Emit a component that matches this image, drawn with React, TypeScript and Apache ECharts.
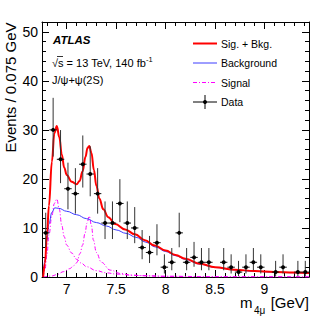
import React, { useEffect, useRef } from "react";
import * as echarts from "echarts";

// ---- Binning / data ----
const binLow = 6.75;
const binWidth = 0.075;
const counts = [9, 30, 24, 18, 17, 23, 21, 17, 11, 11, 15, 11, 10, 6, 5, 7, 2, 3, 9, 3, 4, 3, 3, 0, 3, 2, 1, 2, 3, 2, 0, 1, 2, 0, 1, 1];

// ---- Fit curves (x in GeV, y in events / bin) ----
const sigBkgCurve = [
  [6.762, 0], [6.78, 2.8], [6.8, 8.5], [6.82, 14.5], [6.85, 23.5], [6.875, 29.3], [6.9, 30.8], [6.925, 28.5],
  [6.95, 25], [6.975, 22.3], [7.0, 20.8], [7.05, 19.4], [7.1, 18.9], [7.13, 19.6], [7.16, 21.5], [7.19, 24.5],
  [7.21, 26.3], [7.228, 26.7], [7.25, 25.3], [7.275, 21.8], [7.3, 18.6], [7.33, 16], [7.37, 13.8], [7.42, 12.2],
  [7.49, 10.8], [7.59, 9.7], [7.69, 8.7], [7.79, 7.5], [7.89, 6.4], [8.0, 5.4], [8.1, 4.5], [8.2, 3.7],
  [8.35, 2.7], [8.5, 2.0], [8.7, 1.5], [8.9, 1.2], [9.1, 1.0], [9.3, 0.9], [9.45, 0.8],
];
const bkgCurve = [
  [6.762, 0], [6.78, 3.5], [6.8, 7.5], [6.82, 10.8], [6.85, 13.2], [6.88, 14.1], [6.92, 14.0], [7.0, 13.4],
  [7.1, 12.7], [7.2, 11.9], [7.3, 11.1], [7.4, 10.4], [7.5, 9.6], [7.6, 8.9], [7.7, 8.1], [7.8, 7.1],
  [7.9, 6.1], [8.0, 5.2], [8.1, 4.35], [8.2, 3.6], [8.35, 2.6], [8.5, 1.95], [8.7, 1.45], [8.9, 1.15],
  [9.1, 0.97], [9.3, 0.87], [9.45, 0.78],
];
const signal1Curve = [
  [6.762, 0], [6.78, 1.5], [6.8, 4.5], [6.82, 8.5], [6.85, 12.5], [6.875, 15], [6.9, 15.9], [6.925, 13.8],
  [6.95, 10.5], [6.975, 8.2], [7.0, 6.5], [7.05, 4.9], [7.1, 3.6], [7.15, 2.8], [7.2, 2.1], [7.3, 1.3],
  [7.4, 0.85], [7.5, 0.6], [7.7, 0.3], [8.0, 0.13], [8.5, 0.05], [9.45, 0.02],
];
const signal2Curve = [
  [6.762, 0], [6.85, 0.2], [6.9, 0.5], [6.97, 1.1], [7.03, 1.7], [7.07, 2.3], [7.1, 2.9], [7.135, 4.8],
  [7.16, 6.5], [7.185, 8.9], [7.205, 11], [7.228, 12.4], [7.25, 10.5], [7.27, 7.5], [7.3, 5], [7.35, 3],
  [7.44, 1.4], [7.55, 0.7], [7.65, 0.4], [7.8, 0.25], [8.0, 0.15], [8.5, 0.07], [9.45, 0.03],
];

// ---- Axes ----
const xMin = 6.75;
const xMax = 9.45;
const yMin = 0;
const yMax = 52;
const xMajor = [7, 7.5, 8, 8.5, 9];
const xMinor = [6.8, 6.9, 7.1, 7.2, 7.3, 7.4, 7.6, 7.7, 7.8, 7.9, 8.1, 8.2, 8.3, 8.4, 8.6, 8.7, 8.8, 8.9, 9.1, 9.2, 9.3, 9.4];
const yMajor = [0, 10, 20, 30, 40, 50];
const yMinor = [2, 4, 6, 8, 12, 14, 16, 18, 22, 24, 26, 28, 32, 34, 36, 38, 42, 44, 46, 48];

const FONT = "Liberation Sans, Arial, Helvetica, sans-serif";

// Garwood (Poisson) interval via Wilson-Hilferty chi2 quantile
function chi2q(k: number, z: number) {
  const a = 2 / (9 * k);
  return k * Math.pow(1 - a + z * Math.sqrt(a), 3);
}

function makeXAxis(position: "bottom" | "top", values: number[], len: number, labels: boolean, line: boolean) {
  return {
    type: "value",
    min: xMin,
    max: xMax,
    position,
    axisLine: { show: line, onZero: false, lineStyle: { color: "#000", width: 1 } },
    axisTick: { show: true, inside: true, length: len, customValues: values, lineStyle: { color: "#000", width: 1 } },
    axisLabel: labels
      ? { show: true, customValues: values, fontSize: 14, color: "#000", fontFamily: FONT, margin: 5 }
      : { show: false },
    splitLine: { show: false },
  };
}
function makeYAxis(position: "left" | "right", values: number[], len: number, labels: boolean, line: boolean) {
  return {
    type: "value",
    min: yMin,
    max: yMax,
    position,
    axisLine: { show: line, onZero: false, lineStyle: { color: "#000", width: 1 } },
    axisTick: { show: true, inside: true, length: len, customValues: values, lineStyle: { color: "#000", width: 1 } },
    axisLabel: labels
      ? { show: true, customValues: values, fontSize: 14, color: "#000", fontFamily: FONT, margin: 4 }
      : { show: false },
    splitLine: { show: false },
  };
}

export default function App() {
  const ref = useRef<HTMLDivElement>(null);
  useEffect(() => {
    document.body.style.margin = "0";
    const chart = echarts.init(ref.current!, null, { renderer: "svg" });

    const dataPts = counts
      .map((n, i) => {
        const c = binLow + (i + 0.5) * binWidth;
        const lo = n > 0 ? chi2q(2 * n, -1) / 2 : 0;
        const hi = chi2q(2 * n + 2, 1) / 2;
        return [c, n, lo, hi, binWidth / 2];
      })
      .filter((d) => d[1] > 0);

    const legendX1 = 193;
    const legendX2 = 217;
    const legendTX = 221;
    const rows = [43.5, 63, 82.5, 102];

    chart.setOption({
      animation: false,
      grid: { left: 42, right: 23, top: 22, bottom: 42 },
      xAxis: [
        makeXAxis("bottom", xMajor, 7, true, true),
        makeXAxis("bottom", xMinor, 4, false, false),
        makeXAxis("top", xMajor, 7, false, true),
        makeXAxis("top", xMinor, 4, false, false),
      ],
      yAxis: [
        makeYAxis("left", yMajor, 7, true, true),
        makeYAxis("left", yMinor, 4, false, false),
        makeYAxis("right", yMajor, 7, false, true),
        makeYAxis("right", yMinor, 4, false, false),
      ],
      series: [
        {
          type: "line",
          name: "Signal",
          data: signal1Curve,
          smooth: 0.4,
          smoothMonotone: "x",
          showSymbol: false,
          lineStyle: { color: "#ff00ff", width: 1, type: [4, 2, 1, 2] },
          z: 2,
        },
        {
          type: "line",
          name: "Signal",
          data: signal2Curve,
          smooth: 0.4,
          smoothMonotone: "x",
          showSymbol: false,
          lineStyle: { color: "#ff00ff", width: 1, type: [4, 2, 1, 2] },
          z: 2,
        },
        {
          type: "line",
          name: "Background",
          data: bkgCurve,
          smooth: 0.4,
          smoothMonotone: "x",
          showSymbol: false,
          lineStyle: { color: "#3c3cff", width: 1 },
          z: 3,
        },
        {
          type: "line",
          name: "Sig. + Bkg.",
          data: sigBkgCurve,
          smooth: 0.4,
          smoothMonotone: "x",
          showSymbol: false,
          lineStyle: { color: "#ff0000", width: 2 },
          z: 4,
        },
        {
          type: "custom",
          name: "Data",
          data: dataPts,
          encode: { x: 0, y: 1 },
          z: 5,
          renderItem: (params: any, api: any) => {
            const x = api.value(0);
            const y = api.value(1);
            const lo = api.value(2);
            const hi = api.value(3);
            const hw = api.value(4);
            const p = api.coord([x, y]);
            const pl = api.coord([x - hw, y]);
            const pr = api.coord([x + hw, y]);
            const pt = api.coord([x, hi]);
            const pb = api.coord([x, lo]);
            return {
              type: "group",
              children: [
                { type: "line", shape: { x1: pl[0], y1: p[1], x2: pr[0], y2: p[1] }, style: { stroke: "#111", lineWidth: 1 } },
                { type: "line", shape: { x1: p[0], y1: pt[1], x2: p[0], y2: pb[1] }, style: { stroke: "#333", lineWidth: 1 } },
                { type: "circle", shape: { cx: p[0], cy: p[1], r: 2 }, style: { fill: "#000" } },
              ],
            };
          },
        },
      ],
      graphic: [
        // y-axis title
        {
          type: "text",
          x: 10,
          y: 87.5,
          rotation: Math.PI / 2,
          style: { text: "Events / 0.075 GeV", font: `15px ${FONT}`, fill: "#000", align: "center", verticalAlign: "middle" },
        },
        // x-axis title
        { type: "text", x: 240, y: 302, style: { text: "m", font: `15px ${FONT}`, fill: "#000", align: "left", verticalAlign: "middle" } },
        { type: "text", x: 254, y: 310, style: { text: "4μ", font: `10px ${FONT}`, fill: "#000", align: "left", verticalAlign: "middle" } },
        { type: "text", x: 309, y: 302, style: { text: "[GeV]", font: `15px ${FONT}`, fill: "#000", align: "right", verticalAlign: "middle" } },
        // ATLAS labels
        { type: "text", x: 53, y: 40, style: { text: "ATLAS", font: `italic bold 11.5px ${FONT}`, fill: "#000", align: "left", verticalAlign: "middle" } },
        {
          type: "text",
          x: 52,
          y: 62,
          style: {
            text: "{a|√s = 13 TeV, 140 fb}{b|-1}",
            fill: "#000",
            align: "left",
            verticalAlign: "middle",
            rich: {
              a: { fontSize: 11, fontFamily: FONT, fill: "#000", lineHeight: 13, verticalAlign: "bottom" },
              b: { fontSize: 7.5, fontFamily: FONT, fill: "#000", lineHeight: 13, verticalAlign: "top" },
            },
          },
        },
        { type: "line", shape: { x1: 57, y1: 56.5, x2: 63, y2: 56.5 }, style: { stroke: "#000", lineWidth: 0.8 } },
        { type: "text", x: 52, y: 80, style: { text: "J/ψ+ψ(2S)", font: `11px ${FONT}`, fill: "#000", align: "left", verticalAlign: "middle" } },
        // legend
        { type: "line", shape: { x1: legendX1, y1: rows[0], x2: legendX2, y2: rows[0] }, style: { stroke: "#ff0000", lineWidth: 2 } },
        { type: "text", x: legendTX, y: rows[0], style: { text: "Sig. + Bkg.", font: `10.5px ${FONT}`, fill: "#000", align: "left", verticalAlign: "middle" } },
        { type: "line", shape: { x1: legendX1, y1: rows[1], x2: legendX2, y2: rows[1] }, style: { stroke: "#3c3cff", lineWidth: 1 } },
        { type: "text", x: legendTX, y: rows[1], style: { text: "Background", font: `10.5px ${FONT}`, fill: "#000", align: "left", verticalAlign: "middle" } },
        { type: "line", shape: { x1: legendX1, y1: rows[2], x2: legendX2, y2: rows[2] }, style: { stroke: "#ff00ff", lineWidth: 1, lineDash: [4, 2, 1, 2] } },
        { type: "text", x: legendTX, y: rows[2], style: { text: "Signal", font: `10.5px ${FONT}`, fill: "#000", align: "left", verticalAlign: "middle" } },
        { type: "line", shape: { x1: legendX1, y1: rows[3], x2: legendX2, y2: rows[3] }, style: { stroke: "#000", lineWidth: 1 } },
        { type: "line", shape: { x1: 205, y1: rows[3] - 7, x2: 205, y2: rows[3] + 7 }, style: { stroke: "#000", lineWidth: 1 } },
        { type: "circle", shape: { cx: 205, cy: rows[3], r: 2 }, style: { fill: "#000" } },
        { type: "text", x: legendTX, y: rows[3], style: { text: "Data", font: `10.5px ${FONT}`, fill: "#000", align: "left", verticalAlign: "middle" } },
      ],
    });
    return () => chart.dispose();
  }, []);
  return <div ref={ref} style={{ width: 332, height: 319 }} />;
}
